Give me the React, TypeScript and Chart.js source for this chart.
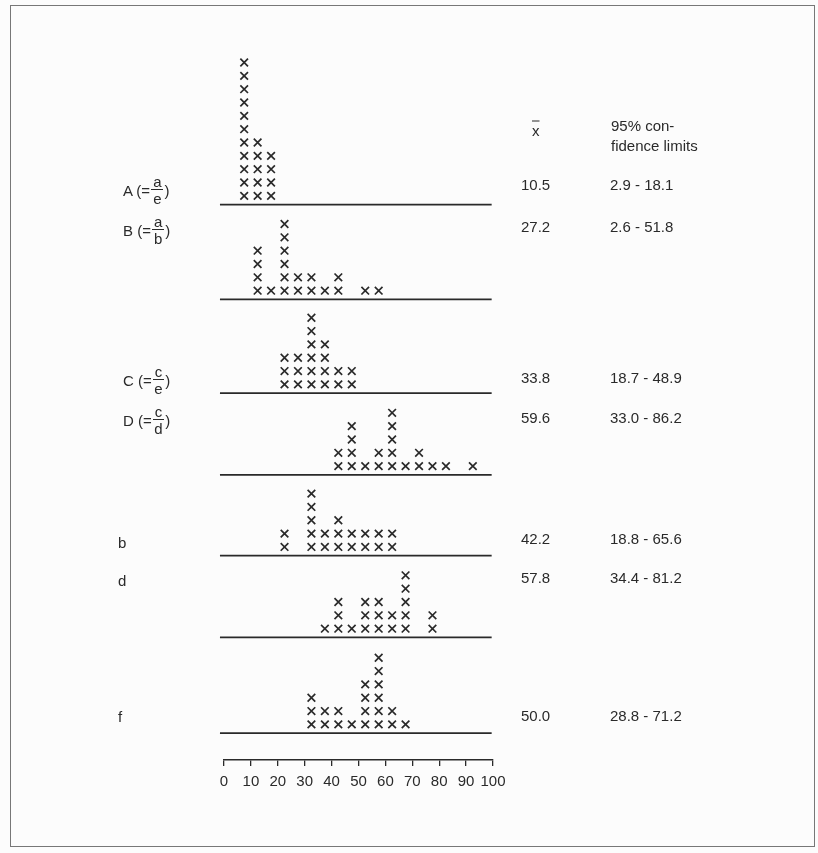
import React, { useEffect, useRef } from "react";
import { Chart, registerables } from "chart.js";

Chart.register(...registerables);

// ---- data ----
const binCenters = [2.5, 7.5, 12.5, 17.5, 22.5, 27.5, 32.5, 37.5, 42.5, 47.5, 52.5, 57.5, 62.5, 67.5, 72.5, 77.5, 82.5, 87.5, 92.5, 97.5];
const countsA = [0, 11, 5, 4, 0, 0, 0, 0, 0, 0, 0, 0, 0, 0, 0, 0, 0, 0, 0, 0];
const countsB = [0, 0, 4, 1, 6, 2, 2, 1, 2, 0, 1, 1, 0, 0, 0, 0, 0, 0, 0, 0];
const countsC = [0, 0, 0, 0, 3, 3, 6, 4, 2, 2, 0, 0, 0, 0, 0, 0, 0, 0, 0, 0];
const countsD = [0, 0, 0, 0, 0, 0, 0, 0, 2, 4, 1, 2, 5, 1, 2, 1, 1, 0, 1, 0];
const countsSmallB = [0, 0, 0, 0, 2, 0, 5, 2, 3, 2, 2, 2, 2, 0, 0, 0, 0, 0, 0, 0];
const countsSmallD = [0, 0, 0, 0, 0, 0, 0, 1, 3, 1, 3, 3, 2, 5, 0, 2, 0, 0, 0, 0];
const countsSmallF = [0, 0, 0, 0, 0, 0, 3, 2, 2, 1, 4, 6, 2, 1, 0, 0, 0, 0, 0, 0];
const groupCounts = [countsA, countsB, countsC, countsD, countsSmallB, countsSmallD, countsSmallF];

const groupNames = ["A", "B", "C", "D", "b", "d", "f"];
const fracNum = ["a", "a", "c", "c", "", "", ""];
const fracDen = ["e", "b", "e", "d", "", "", ""];
const means = ["10.5", "27.2", "33.8", "59.6", "42.2", "57.8", "50.0"];
const limits = ["2.9 - 18.1", "2.6 - 51.8", "18.7 - 48.9", "33.0 - 86.2", "18.8 - 65.6", "34.4 - 81.2", "28.8 - 71.2"];
const xTicks = [0, 10, 20, 30, 40, 50, 60, 70, 80, 90, 100];

// ---- layout (in row units above the axis / pixels for HTML text) ----
const baseLevels = [41.66, 34.55, 27.52, 21.39, 15.33, 9.2, 2.02];
const markOffset = 0.65;
const lineStart = -1.5;
const lineEnd = 99.5;
const labelY = [190, 230, 380, 420, 542, 580, 716];
const valueY = [184, 226, 377, 417, 538, 577, 715];

const INK = "#2a2a2a";
const FONT = "'Liberation Sans', Arial, sans-serif";

function Frac({ num, den }: { num: string; den: string }) {
  return (
    <span
      style={{
        display: "inline-flex",
        flexDirection: "column",
        alignItems: "center",
        verticalAlign: "middle",
        lineHeight: 1,
        fontSize: 15,
        margin: "0 1px",
      }}
    >
      <span style={{ borderBottom: `1.5px solid ${INK}`, padding: "0 2px 0 2px" }}>{num}</span>
      <span style={{ paddingTop: 1 }}>{den}</span>
    </span>
  );
}

export default function App() {
  const ref = useRef<HTMLCanvasElement | null>(null);

  useEffect(() => {
    if (!ref.current) return;
    const datasets: any[] = [];
    groupCounts.forEach((counts, g) => {
      const pts: { x: number; y: number }[] = [];
      counts.forEach((c, i) => {
        for (let k = 0; k < c; k++) pts.push({ x: binCenters[i], y: baseLevels[g] + markOffset + k });
      });
      datasets.push({
        type: "scatter",
        label: groupNames[g],
        data: pts,
        pointStyle: "crossRot",
        pointRadius: 5.4,
        pointBorderWidth: 1.7,
        borderColor: INK,
        backgroundColor: INK,
        showLine: false,
        clip: false,
      });
      datasets.push({
        type: "line",
        label: groupNames[g] + " base",
        data: [
          { x: lineStart, y: baseLevels[g] },
          { x: lineEnd, y: baseLevels[g] },
        ],
        borderColor: INK,
        borderWidth: 1.8,
        pointRadius: 0,
        clip: false,
      });
    });

    const chart = new Chart(ref.current, {
      type: "scatter",
      data: { datasets },
      options: {
        animation: false,
        responsive: false,
        devicePixelRatio: 1,
        layout: { padding: { left: 224, right: 325, top: 40, bottom: 55 } },
        plugins: { legend: { display: false }, tooltip: { enabled: false } },
        scales: {
          y: { type: "linear", min: 0, max: 54, display: false },
          x: {
            type: "linear",
            min: 0,
            max: 100,
            afterBuildTicks: (axis: any) => {
              axis.ticks = xTicks.map((v) => ({ value: v }));
            },
            ticks: { color: INK, font: { family: FONT, size: 15 }, padding: 7, maxRotation: 0, autoSkip: false },
            grid: { drawOnChartArea: false, drawTicks: true, tickLength: 6, color: INK, lineWidth: 1.3 },
            border: { display: true, color: INK, width: 1.6 },
          },
        },
      },
    });
    return () => chart.destroy();
  }, []);

  const textBase: React.CSSProperties = {
    position: "absolute",
    fontFamily: FONT,
    fontSize: 15,
    color: INK,
    whiteSpace: "nowrap",
    transform: "translateY(-50%)",
    lineHeight: 1,
  };

  return (
    <div style={{ position: "fixed", left: 0, top: 0, width: 818, height: 853, background: "#fcfcfc" }}>
      <div
        style={{
          position: "absolute",
          left: 10,
          top: 5,
          width: 805,
          height: 842,
          border: "1px solid #777",
          boxSizing: "border-box",
        }}
      />
      <canvas ref={ref} width={818} height={853} style={{ position: "absolute", left: 0, top: 0, width: 818, height: 853 }} />
      {groupNames.map((n, i) => (
        <div key={"l" + i} style={{ ...textBase, left: fracNum[i] ? 123 : 118, top: labelY[i] }}>
          {fracNum[i] ? (
            <>
              <span style={{ verticalAlign: "middle" }}>{n} (=</span>
              <Frac num={fracNum[i]} den={fracDen[i]} />
              <span style={{ verticalAlign: "middle" }}>)</span>
            </>
          ) : (
            n
          )}
        </div>
      ))}
      <div style={{ ...textBase, left: 532, top: 130 }}>
        <span style={{ textDecoration: "overline" }}>x</span>
      </div>
      <div style={{ ...textBase, left: 611, top: 135, lineHeight: 1.3 }}>
        95% con-
        <br />
        fidence limits
      </div>
      {means.map((m, i) => (
        <div key={"m" + i} style={{ ...textBase, left: 521, top: valueY[i] }}>
          {m}
        </div>
      ))}
      {limits.map((m, i) => (
        <div key={"c" + i} style={{ ...textBase, left: 610, top: valueY[i] }}>
          {m}
        </div>
      ))}
    </div>
  );
}
